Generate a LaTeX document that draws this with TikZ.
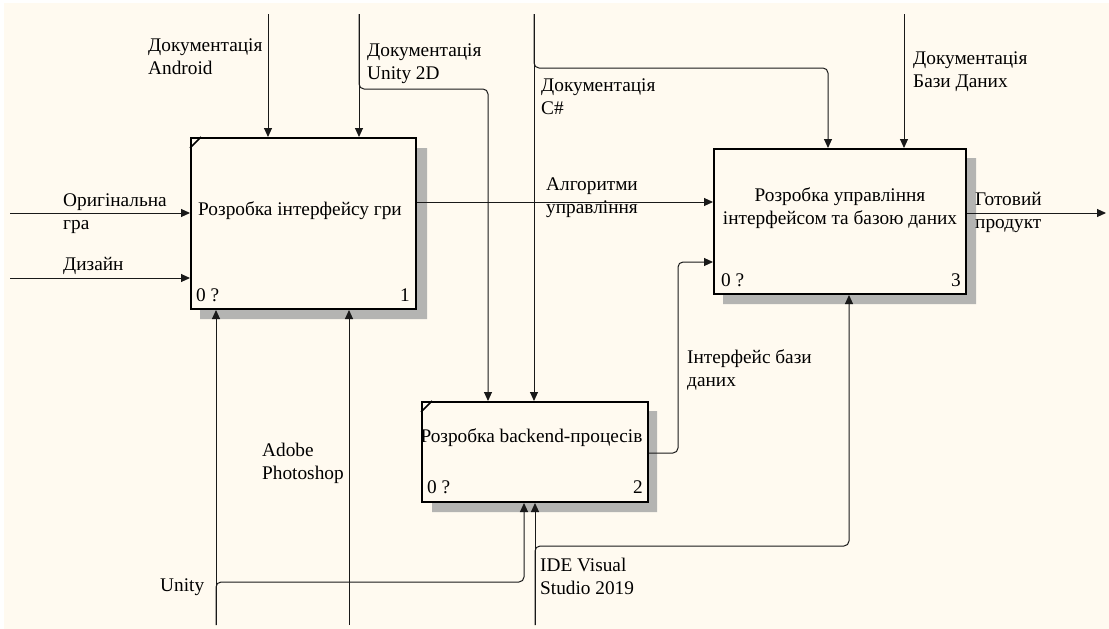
\documentclass[tikz,border=0pt]{standalone}
\usepackage{fontspec}
\setmainfont{Liberation Serif}
\usetikzlibrary{arrows.meta,calc}
\definecolor{bgcream}{RGB}{255,250,240}
\definecolor{shadowgray}{RGB}{180,180,178}
\definecolor{linegray}{RGB}{25,25,25}
\begin{document}
\begin{tikzpicture}[x=1pt,y=-1pt,
  every node/.style={font=\fontsize{19.3}{23}\selectfont, inner sep=0pt, text=black},
  funcbox/.style={draw=black, line width=2pt, fill=bgcream, rectangle, anchor=north west},
  shade/.style={fill=shadowgray, draw=none},
  conn/.style={draw=linegray, line width=1pt, rounded corners=5pt},
  arr/.style={conn, -{Triangle[length=9pt,width=8pt]}},
  lbl/.style={anchor=west, align=left},
  notch/.style={draw=black, line width=1.6pt}
]
\useasboundingbox (0,0) rectangle (1109,629);
\fill[white] (0,0) rectangle (1109,629);
\fill[bgcream] (4,3) rectangle (1109,629);

% shadows
\fill[shade] (415,148) -- (427,148) -- (427,319) -- (200,319) -- (200,308) -- (415,308) -- cycle;
\fill[shade] (647,411) -- (657,411) -- (657,512) -- (432,512) -- (432,501) -- (647,501) -- cycle;
\fill[shade] (965,158) -- (976,158) -- (976,304) -- (723,304) -- (723,293) -- (965,293) -- cycle;

% boxes
\node[funcbox, minimum width=225pt, minimum height=171pt] (b1) at (190,137) {};
\node[funcbox, minimum width=226pt, minimum height=100pt] (b2) at (421,401) {};
\node[funcbox, minimum width=252pt, minimum height=145pt] (b3) at (713,148) {};
\draw[notch] ($(b1.north west)+(0,11)$) -- ($(b1.north west)+(11,0)$);
\draw[notch] ($(b2.north west)+(0,11)$) -- ($(b2.north west)+(11,0)$);

% box texts
\node (t1) at (300,211) {Розробка інтерфейсу гри};
\node (t2) at (531.5,438) {Розробка backend-процесів};
\node[align=center] (t3) at (840,208.5) {Розробка управління\\інтерфейсом та базою даних};
\node[anchor=west] (n1a) at (196,295) {0 ?};
\node[anchor=east] (n1b) at (410,295) {1};
\node[anchor=west] (n2a) at (427,487) {0 ?};
\node[anchor=east] (n2b) at (643,487) {2};
\node[anchor=west] (n3a) at (721,280) {0 ?};
\node[anchor=east] (n3b) at (961,280) {3};

% free ends
\coordinate (andr) at (268,14);
\coordinate (u2d) at (359,14);
\coordinate (u2dbr) at (359,89);
\coordinate (u2dx) at (488,89);
\coordinate (csh) at (534,14);
\coordinate (cshbr) at (534,68);
\coordinate (cshx) at (828,68);
\coordinate (ddb) at (904,14);
\coordinate (orig) at (10,213);
\coordinate (diz) at (10,278);
\coordinate (algy) at (560,202);
\coordinate (gotov) at (1106,213);
\coordinate (intf) at (678,453);
\coordinate (intfy) at (678,262);
\coordinate (unity) at (216,625);
\coordinate (unitybr) at (216,582);
\coordinate (unityx) at (524,582);
\coordinate (photo) at (349,625);
\coordinate (ide) at (535,625);
\coordinate (idebr) at (535,546);
\coordinate (idex) at (849,546);

% controls
\draw[arr] (andr) -- (andr |- b1.north);
\draw[arr] (u2d) -- (u2d |- b1.north);
\draw[arr] (u2d) -- (u2dbr) -- (u2dx) -- (u2dx |- b2.north);
\draw[arr] (csh) -- (csh |- b2.north);
\draw[arr] (csh) -- (cshbr) -- (cshx) -- (cshx |- b3.north);
\draw[arr] (ddb) -- (ddb |- b3.north);
% inputs
\draw[arr] (orig) -- (orig -| b1.west);
\draw[arr] (diz) -- (diz -| b1.west);
\draw[arr] (algy -| b1.east) -- (algy -| b3.west);
\draw[arr] (intf -| b2.east) -- (intf) -- (intfy) -- (intfy -| b3.west);
% output
\draw[arr] (gotov -| b3.east) -- (gotov);
% mechanisms
\draw[arr] (unity) -- (unity |- b1.south);
\draw[arr] (unity) -- (unitybr) -- (unityx) -- (unityx |- b2.south);
\draw[arr] (photo) -- (photo |- b1.south);
\draw[arr] (ide) -- (ide |- b2.south);
\draw[arr] (ide) -- (idebr) -- (idex) -- (idex |- b3.south);

% labels
\node[lbl] (l1) at (148,56.5) {Документація\\Android};
\node[lbl] (l2) at (367,63.5) {Документація\\Unity 2D};
\node[lbl] (l3) at (541,96.5) {Документація\\C\#};
\node[lbl] (l4) at (913,71.5) {Документація\\Бази Даних};
\node[lbl] (l5) at (63,214) {Оригінальна\\гра};
\node[lbl] (l6) at (63,266) {Дизайн};
\node[lbl] (l7) at (546,198) {Алгоритми\\управління};
\node[lbl] (l8) at (975,212.5) {Готовий\\продукт};
\node[lbl] (l9) at (687,369.5) {Інтерфейс бази\\даних};
\node[lbl] (l10) at (262,463.5) {Adobe\\Photoshop};
\node[lbl] (l11) at (160,587) {Unity};
\node[lbl] (l12) at (540,576.5) {IDE Visual\\Studio 2019};
\end{tikzpicture}
\end{document}
